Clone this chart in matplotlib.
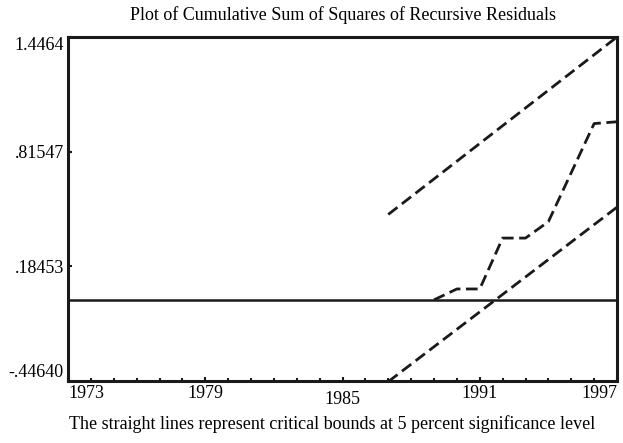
import matplotlib
matplotlib.use("Agg")
import matplotlib.pyplot as plt

plt.rcParams['font.family'] = ['Liberation Serif', 'DejaVu Serif']

# CUSUMSQ series (flat at zero before 1989)
years = [1989, 1990, 1991, 1992, 1993, 1994, 1995, 1996, 1997]
cusumsq = [0.0, 0.06, 0.06, 0.34, 0.34, 0.43, 0.70, 0.97, 0.98]

# 5% critical bounds (straight lines, end points)
bound_years = [1987, 1997]
upper = [0.47, 1.4464]
lower = [-0.45, 0.51]

ytick_vals = [-0.4464, 0.18453, 0.81547, 1.4464]
ytick_labels = ['-.44640', '.18453', '.81547', '1.4464']
xtick_vals = [1973, 1979, 1985, 1991, 1997]
xtick_labels = ['1973', '1979', '1985', '1991', '1997']

fig = plt.figure(figsize=(6.23, 4.43), dpi=100)
ax = fig.add_axes([68/623, 1-381/443, (617-68)/623, (381-37)/443])

ink = '#1a1a1a'
dash = (0, (4.2, 2.0))
ax.axhline(0, color=ink, lw=1.8)
ax.plot(years, cusumsq, color=ink, lw=2.0, linestyle=dash)
ax.plot(bound_years, upper, color=ink, lw=2.0, linestyle=dash)
ax.plot(bound_years, lower, color=ink, lw=2.0, linestyle=dash)

ax.set_xlim(1973, 1997)
ax.set_ylim(-0.4464, 1.4464)

for s in ax.spines.values():
    s.set_linewidth(2.2)
    s.set_color(ink)

ax.set_yticks(ytick_vals)
ax.set_yticklabels(ytick_labels, fontsize=13)
ax.set_xticks(xtick_vals)
ax.set_xticklabels(xtick_labels, fontsize=13)
ax.set_xticks(range(1973, 1998), minor=True)
ax.tick_params(axis='both', which='both', direction='in', length=3, width=1.5,
               color=ink)
ax.tick_params(axis='y', pad=3)
ax.tick_params(axis='x', pad=3)
ax.tick_params(axis='x', which='minor', length=2)

ylabs = ax.get_yticklabels()
ylabs[0].set_va('bottom')
ylabs[-1].set_va('top')
xlabs = ax.get_xticklabels()
xlabs[0].set_ha('left')
xlabs[-1].set_ha('right')
ax.xaxis.get_major_ticks()[2].set_pad(7)

fig.text(343/623, 1-15/443, 'Plot of Cumulative Sum of Squares of Recursive Residuals',
         ha='center', va='center', fontsize=13)
fig.text(332/623, 1-424/443,
         'The straight lines represent critical bounds at 5 percent significance level',
         ha='center', va='center', fontsize=13)

fig.savefig('out.png', dpi=100)
